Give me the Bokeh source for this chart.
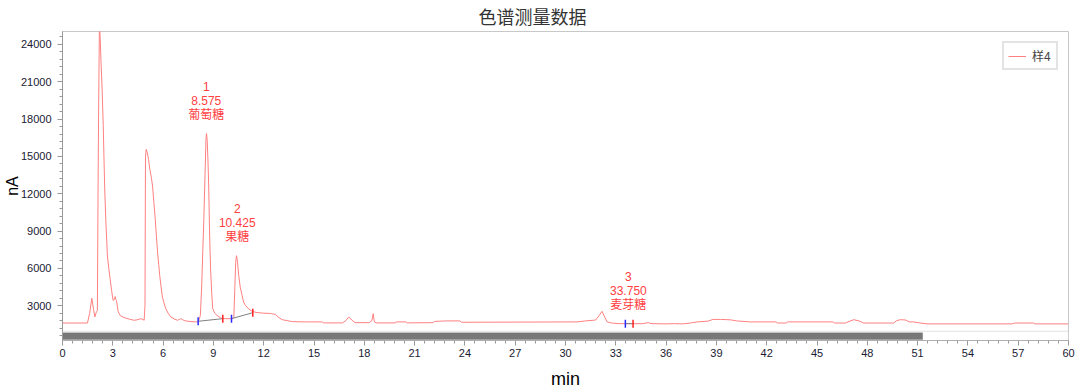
import numpy as np
from bokeh.plotting import figure
from bokeh.models import Range1d, BoxAnnotation, FixedTicker
from bokeh.core.properties import value
from bokeh.embed import file_html
from bokeh.resources import INLINE

# ---------------- data ----------------
time_min = [0.0, 1.49, 1.62, 1.75, 1.85, 1.93, 2.02, 2.08, 2.12, 2.15, 2.20,
            2.24, 2.30, 2.36, 2.43, 2.48, 2.52, 2.58, 2.68, 2.76, 2.84, 2.93,
            3.02, 3.10, 3.14, 3.18, 3.22, 3.32, 3.45, 3.68, 4.00, 4.27, 4.50,
            4.67, 4.80, 4.87, 4.92, 4.95, 4.99, 5.06, 5.13, 5.21, 5.30, 5.37,
            5.45, 5.53, 5.60, 5.67, 5.74, 5.80, 5.88, 5.96, 6.06, 6.16, 6.30,
            6.46, 6.65, 6.86, 6.97, 7.06, 7.15, 7.35, 7.60, 7.95, 8.10, 8.22,
            8.30, 8.37, 8.43, 8.50, 8.56, 8.59, 8.63, 8.68, 8.72, 8.77, 8.83,
            8.90, 8.96, 9.08, 9.22, 9.40, 9.52, 10.12, 10.22, 10.28, 10.33,
            10.38, 10.44, 10.51, 10.60, 10.71, 10.80, 10.91, 11.10, 11.31,
            11.60, 12.00, 12.40, 12.70, 12.90, 13.10, 13.40, 13.70, 14.50,
            15.49, 15.55, 16.70, 16.90, 17.07, 17.25, 17.45, 18.30, 18.45,
            18.53, 18.60, 18.70, 19.86, 19.90, 20.50, 20.55, 22.10, 22.20,
            22.90, 23.70, 23.80, 30.70, 31.20, 31.80, 32.00, 32.18, 32.30,
            32.48, 32.80, 33.20, 34.60, 34.94, 35.10, 36.00, 36.50, 37.00,
            37.50, 37.85, 38.50, 38.80, 39.24, 39.83, 40.20, 41.02, 42.55,
            42.65, 43.15, 43.25, 45.95, 46.05, 46.70, 46.85, 47.19, 47.50,
            47.79, 49.57, 49.75, 49.97, 50.30, 50.50, 50.76, 51.10, 51.56,
            56.63, 56.80, 57.92, 58.00, 60.00]
signal_nA = [1610, 1610, 2400, 3600, 2700, 2100, 2500, 2600, 12000, 18000, 25500,
             24800, 22500, 20500, 17500, 14500, 12300, 9960, 7000, 6000, 5160, 4200,
             3420, 3500, 3740, 3500, 3420, 2520, 2200, 2040, 1920, 1830, 1880,
             1960, 1900, 1830, 3000, 15000, 15560, 15300, 14760, 13960, 13300, 12620,
             11300, 9960, 8600, 7300, 6300, 5420, 4500, 3700, 3200, 2760, 2400,
             2100, 1950, 1830, 1900, 1960, 1880, 1780, 1730, 1700, 1720, 2200,
             4500, 7500, 9960, 13500, 16500, 16840, 16300, 14500, 12620, 9000, 5960,
             4000, 2760, 2400, 2220, 2050, 1960, 1960, 2050, 4500, 6500,
             7020, 6500, 5420, 4500, 3820, 3300, 3020, 2750, 2540,
             2450, 2400, 2380, 2300, 2050, 1880, 1800, 1720, 1700,
             1700, 1620, 1620, 1800, 2100, 1850, 1640, 1640, 1800,
             2360, 1700, 1620, 1620, 1700, 1700, 1620, 1640, 1740,
             1780, 1780, 1670, 1700, 1780, 1850, 2200, 2550, 2200,
             1700, 1600, 1560, 1560, 1640, 1560, 1540, 1560, 1540,
             1620, 1700, 1760, 1900, 1900, 1870, 1780, 1700, 1700,
             1610, 1610, 1700, 1700, 1610, 1610, 1700, 1880, 1780,
             1610, 1610, 1800, 1880, 1850, 1700, 1700, 1620, 1540,
             1540, 1610, 1610, 1540, 1540]

series_name = "样4"

# identified peaks
peak_no = ["1", "2", "3"]
peak_rt = [8.575, 10.425, 33.750]
peak_name = ["葡萄糖", "果糖", "麦芽糖"]
peak_height = [16840, 7020, 1560]

# integration markers (start = blue, end = red)
int_start_t = [8.09, 10.08, 33.57]
int_start_y = [1750, 1960, 1560]
int_end_t = [9.56, 11.35, 34.03]
int_end_y = [1960, 2440, 1560]

x_ticks = list(range(0, 61, 3))
y_ticks = list(range(3000, 24001, 3000))

scroll_view_end = 51.3  # visible part of the scroll bar (min)

# ---------------- figure ----------------
p = figure(width=1080, height=391,
           x_range=Range1d(0, 60), y_range=Range1d(205, 25040),
           output_backend="svg", toolbar_location=None,
           min_border_left=62, min_border_right=12,
           min_border_top=31, min_border_bottom=49)

p.title.text = "色谱测量数据"
p.title.align = "left"
p.title.vertical_align = "top"
p.title.offset = 416
p.title.standoff = 2
p.title.text_font = "Noto Sans CJK SC"
p.title.text_font_size = "18px"
p.title.text_font_style = "normal"
p.title.text_color = "#333333"

p.grid.visible = False
p.outline_line_color = "#c8c8c8"
p.background_fill_color = "white"
p.border_fill_color = "white"

# axes
p.xaxis.ticker = FixedTicker(ticks=x_ticks, minor_ticks=list(np.arange(0, 60.01, 0.6)))
p.yaxis.ticker = FixedTicker(ticks=y_ticks, minor_ticks=list(np.arange(600, 25000, 600)))
for ax in (p.xaxis[0], p.yaxis[0]):
    ax.axis_line_color = "#999999"
    ax.major_tick_line_color = "#999999"
    ax.minor_tick_line_color = "#999999"
    ax.major_tick_out = 5
    ax.major_tick_in = 0
    ax.minor_tick_out = 3
    ax.minor_tick_in = 0
    ax.major_label_text_font = "Liberation Sans"
    ax.major_label_text_font_size = "11px"
    ax.major_label_text_color = "#1a1a33"
    ax.axis_label_text_font = "Liberation Sans"
    ax.axis_label_text_font_style = "normal"
    ax.axis_label_text_color = "black"

p.xaxis.axis_label = "min"
p.xaxis.axis_label_text_font_size = "18px"
p.xaxis.major_label_standoff = 3
p.xaxis.axis_label_standoff = 9
p.yaxis.axis_label = "nA"
p.yaxis.axis_label_text_font_size = "16px"
p.yaxis.major_label_standoff = 6
p.yaxis.axis_label_standoff = -3

# chromatogram
p.line(time_min, signal_nA, line_color="#ff8080", line_width=1, legend_label=series_name)

# integration baselines
p.segment(x0=int_start_t, y0=int_start_y, x1=int_end_t, y1=int_end_y,
          line_color="#808080", line_width=1)
p.scatter(x=int_start_t, y=int_start_y, marker="dash", angle=np.pi / 2, size=8,
          line_color="#2a2aff", line_width=1.5)
p.scatter(x=int_end_t, y=int_end_y, marker="dash", angle=np.pi / 2, size=8,
          line_color="#ff2020", line_width=1.5)

# peak labels
labels = [f"{n}\n{rt:.3f}\n{nm}" for n, rt, nm in zip(peak_no, peak_rt, peak_name)]
p.text(x=peak_rt, y=peak_height, text=labels, text_align="center",
       text_baseline="bottom", y_offset=-12, text_font_size="12px",
       text_line_height=1.0,
       text_font=value("Liberation Sans, Noto Sans CJK SC"), text_color="#ff4040")

# scroll bar decoration
p.add_layout(BoxAnnotation(bottom=205, top=948, fill_color="white", fill_alpha=1,
                           line_color="#a0a0a0", line_width=1))
p.add_layout(BoxAnnotation(left=0, right=scroll_view_end, bottom=285, top=820,
                           fill_color="#787878", fill_alpha=1,
                           line_color="#666666", line_width=1))
grip = scroll_view_end / 2
p.scatter(x=[grip - 0.15, grip, grip + 0.15], y=[550, 550, 550], marker="dash",
          angle=np.pi / 2, size=3, line_color="white", line_width=1)

# legend
lg = p.legend[0]
lg.location = "top_right"
lg.margin = 10
lg.padding = 4
lg.spacing = 0
lg.glyph_width = 18
lg.glyph_height = 14
lg.label_height = 14
lg.label_standoff = 6
lg.label_text_font = "Noto Sans CJK SC"
lg.label_text_font_size = "12px"
lg.border_line_color = "#c8c8c8"
lg.border_line_width = 2
lg.background_fill_alpha = 1

open("out.html", "w").write(file_html(p, INLINE))
